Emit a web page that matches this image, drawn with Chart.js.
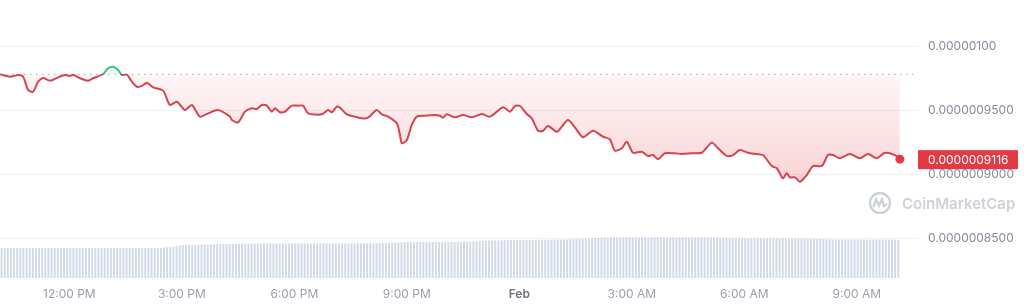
<!DOCTYPE html>
<html><head><meta charset="utf-8">
<script src="https://cdn.jsdelivr.net/npm/chart.js@4.4.1/dist/chart.umd.min.js"></script>
<style>html,body{margin:0;padding:0;background:#fff;overflow:hidden}#wrap{width:1024px;height:307px;position:relative}</style>
</head><body><div id="wrap"><canvas id="c" width="1024" height="307"></canvas></div>
<script>
// ---- data ----
// time in minutes since 10:09 AM (Jan 31); price in units of 1e-10
const TIME_MIN = [0,16,29,37,45,53,61,69,80,93,104,112,117,128,141,149,165,173,181,189,195,203,211,219,227,235,245,261,272,283,296,307,320,333,349,368,371,381,392,403,411,419,427,435,440,448,456,467,477,485,493,515,525,531,539,544,555,568,579,589,603,611,621,635,640,643,651,659,667,680,696,704,709,715,728,741,755,771,784,805,816,824,832,843,851,861,869,877,891,899,909,920,933,949,965,976,984,995,1003,1013,1027,1037,1045,1053,1064,1080,1091,1107,1123,1139,1149,1163,1173,1184,1197,1211,1221,1235,1243,1253,1259,1264,1272,1280,1291,1301,1315,1325,1333,1344,1360,1376,1389,1403,1416,1432,1440];
const PRICE = [9779,9760,9773,9760,9656,9643,9721,9750,9729,9755,9773,9766,9776,9748,9729,9748,9781,9826,9838,9812,9775,9777,9721,9682,9688,9713,9677,9651,9539,9565,9500,9539,9448,9474,9500,9448,9422,9404,9487,9513,9508,9539,9534,9487,9513,9482,9487,9534,9534,9534,9474,9466,9500,9482,9526,9518,9466,9448,9435,9440,9500,9466,9448,9396,9305,9240,9266,9383,9448,9455,9461,9455,9440,9466,9443,9461,9443,9469,9448,9521,9487,9531,9531,9469,9435,9338,9338,9375,9330,9370,9422,9365,9287,9338,9291,9271,9182,9201,9252,9166,9174,9141,9148,9115,9162,9162,9156,9162,9166,9245,9201,9141,9148,9187,9166,9156,9148,9062,9045,8966,9005,8974,8974,8940,8992,9062,9062,9148,9148,9123,9156,9123,9156,9123,9166,9148,9116];
const PRICE_UNIT = 1e-10;
const LAST_PRICE_LABEL = '0.0000009116';
const VOLUME_STEP_MIN = 5;
const VOLUME = [
108,107,108,109,108,108,107,108,108,109,108,107,108,108,108,109,108,107,108,108,
108,108,109,108,107,108,108,108,109,108,108,107,108,108,108,109,108,108,107,108,
108,108,109,108,108,107,108,108,108,109,108,108,110,111,112,113,
115,117,118,119,119,120,119,120,120,121,120,121,121,122,121,122,122,123,122,123,123,124,123,124,
124,125,124,124,125,124,125,124,124,125,125,124,
124,125,124,125,124,124,125,124,125,124,124,125,
125,124,124,125,124,125,124,124,125,124,125,125,
124,124,125,124,125,125,126,126,127,127,128,128,
128,129,129,130,129,130,129,129,130,130,129,130,129,130,130,129,
130,130,131,130,131,131,132,131,132,132,133,133,134,134,135,135,
136,136,137,137,137,136,137,137,138,137,137,138,137,138,138,137,
138,138,139,138,139,139,140,140,141,141,142,142,143,143,144,144,
145,146,146,147,146,147,147,146,147,147,146,147,147,147,146,147,147,146,147,147,147,
146,147,147,146,147,147,146,147,147,146,146,147,146,146,146,145,146,146,145,145,
145,144,144,144,143,144,143,143,144,143,143,143,144,143,143,143,142,
143,143,143,142,143,143,142,143,142,142,142,141,141,140,140,139,139,
139,138,139,138,138,139,138,138,139,138,138,138,139,138,138,138,139,138,138,138,138
];
const X_TICK_MIN = [111,291,471,651,831,1011,1191,1371];
const X_TICK_LABELS = ['12:00 PM','3:00 PM','6:00 PM','9:00 PM','Feb','3:00 AM','6:00 AM','9:00 AM'];
const Y_TICK_VALUES = [8500,9000,9500,10000];
const Y_TICK_LABELS = ['0.0000008500','0.0000009000','0.0000009500','0.00000100'];

// ---- styling ----
const REF = PRICE[0];
const RED = '#d6444f', GREEN = '#33c48f';
const X_MAX = 1469;

function lineGradient(chart){
  const {ctx, chartArea, scales} = chart;
  if(!chartArea || !scales.y) return RED;
  const ry = scales.y.getPixelForValue(REF);
  const f = Math.min(1, Math.max(0, (ry - chartArea.top)/(chartArea.bottom - chartArea.top)));
  const g = ctx.createLinearGradient(0, chartArea.top, 0, chartArea.bottom);
  g.addColorStop(0, GREEN); g.addColorStop(f, GREEN); g.addColorStop(f, RED); g.addColorStop(1, RED);
  return g;
}
function fillGradient(chart){
  const {ctx, chartArea, scales} = chart;
  if(!chartArea || !scales.y) return 'rgba(234,57,67,0.1)';
  const ry = scales.y.getPixelForValue(REF);
  const by = scales.y.getPixelForValue(Math.min(...PRICE));
  const g = ctx.createLinearGradient(0, ry, 0, by);
  g.addColorStop(0, 'rgba(234,57,67,0.04)');
  g.addColorStop(1, 'rgba(234,57,67,0.22)');
  return g;
}

const overlay = {
  id: 'overlay',
  afterDraw(chart){
    const {ctx, chartArea, scales} = chart;
    const y = scales.y.getPixelForValue(PRICE[PRICE.length-1]);
    const x0 = chartArea.right;
    ctx.save();
    ctx.fillStyle = '#e33a45';
    ctx.fillRect(x0, y - 9, 100, 19);
    ctx.fillStyle = '#ffffff';
    ctx.font = '12px Inter';
    ctx.textBaseline = 'middle';
    ctx.textAlign = 'left';
    ctx.fillText(LAST_PRICE_LABEL, x0 + 10, y + 1);
    const wy = 203;
    ctx.strokeStyle = '#cdd1d8';
    ctx.lineWidth = 2.4;
    ctx.beginPath(); ctx.arc(880, wy, 10, 0, Math.PI*2); ctx.stroke();
    ctx.beginPath();
    ctx.moveTo(873.5, wy+4); ctx.lineTo(876, wy-3.5); ctx.lineTo(879, wy+2.5);
    ctx.lineTo(882, wy-3.5); ctx.lineTo(884, wy+3); ctx.lineTo(887, wy+1);
    ctx.stroke();
    ctx.fillStyle = '#cdd1d8';
    ctx.font = '600 15px Inter';
    ctx.fillText('CoinMarketCap', 902, wy + 1);
    ctx.restore();
  }
};

function noPad(s){ s.paddingLeft = 0; s.paddingRight = 0; s.paddingTop = 0; s.paddingBottom = 0; }

new Chart(document.getElementById('c'), {
  data: {
    datasets: [
      {
        type: 'line',
        order: 1,
        data: TIME_MIN.map((t,i)=>({x:t, y:PRICE[i]})),
        borderColor: ctx => lineGradient(ctx.chart),
        backgroundColor: ctx => fillGradient(ctx.chart),
        fill: {target: {value: REF}, above: 'rgba(22,199,132,0.06)'},
        borderWidth: 2,
        tension: 0.25,
        clip: 8,
        pointRadius: ctx => ctx.dataIndex === PRICE.length-1 ? 4.5 : 0,
        pointBackgroundColor: '#e33a45',
        pointBorderWidth: 0,
        yAxisID: 'y'
      },
      {
        type: 'line',
        order: 2,
        data: [{x:0, y:REF},{x:X_MAX, y:REF}],
        borderColor: '#b9bdc6',
        borderWidth: 1.3,
        borderDash: [1.5, 4.5],
        pointRadius: 0,
        fill: false,
        yAxisID: 'y'
      },
      {
        type: 'bar',
        order: 3,
        data: VOLUME.map((v,i)=>({x: i*VOLUME_STEP_MIN + VOLUME_STEP_MIN/2, y: v})),
        backgroundColor: '#d2d9e7',
        borderWidth: 0,
        barPercentage: 0.62,
        categoryPercentage: 1,
        yAxisID: 'yv'
      }
    ]
  },
  options: {
    responsive: false,
    devicePixelRatio: 1,
    animation: false,
    events: [],
    layout: {padding: 0, autoPadding: false},
    plugins: {legend: {display: false}, tooltip: {enabled: false}},
    scales: {
      x: {
        type: 'linear',
        offset: false,
        min: 0, max: X_MAX,
        grid: {display: false, drawTicks: false, offset: false},
        border: {display: false},
        afterBuildTicks: s => { s.ticks = X_TICK_MIN.map(v=>({value:v})); },
        afterFit: s => { s.height = 29; noPad(s); },
        ticks: {
          autoSkip: false, maxRotation: 0, padding: 9,
          callback: v => X_TICK_LABELS[X_TICK_MIN.indexOf(v)],
          color: c => (c.tick && c.tick.label === 'Feb') ? '#6b7280' : '#9aa0ac',
          font: c => (c.tick && c.tick.label === 'Feb') ? {family: 'Inter', size: 12, weight: '600'} : {family: 'Inter', size: 12}
        }
      },
      y: {
        type: 'linear',
        position: 'right',
        min: 8187.5, max: 10359.4,
        grid: {color: '#eff1f4', drawTicks: false, lineWidth: 1},
        border: {display: false},
        afterBuildTicks: s => { s.ticks = Y_TICK_VALUES.map(v=>({value:v})); },
        afterFit: s => { s.width = 106; noPad(s); },
        ticks: {
          padding: 10,
          callback: v => Y_TICK_LABELS[Y_TICK_VALUES.indexOf(v)],
          color: '#858c9b',
          font: {family: 'Inter', size: 12}
        }
      },
      yv: {
        type: 'linear',
        display: false,
        min: 0, max: 1000
      }
    }
  },
  plugins: [overlay]
});
</script>
</body></html>
